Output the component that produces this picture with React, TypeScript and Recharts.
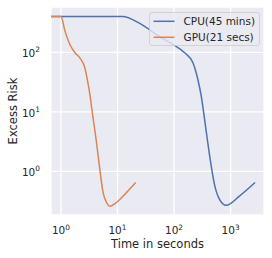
import { CartesianGrid, Legend, Line, LineChart, XAxis, YAxis } from 'recharts'

const CPU_TIME = [0.667, 12.3, 24.7, 55.7, 95.7, 154, 216, 264, 303, 347, 396, 455, 520, 637, 836, 1435, 2716]
const CPU_RISK = [400, 400, 307, 184, 136, 99, 67, 35, 18.4, 7.5, 3.0, 1.23, 0.6, 0.34, 0.27, 0.385, 0.65]

const GPU_TIME = [0.667, 1.0, 1.18, 1.44, 1.77, 2.16, 2.65, 2.96, 3.25, 3.56, 4.26, 4.87, 5.57, 6.4, 7.3, 9.6, 14.4, 21]
const GPU_RISK = [400, 400, 228, 136, 99, 81, 55, 33, 19.7, 10.3, 3.03, 1.08, 0.44, 0.3, 0.26, 0.3, 0.44, 0.65]

const X_TICKS = [1, 10, 100, 1000]
const Y_TICKS = [1, 10, 100]

const SERIES = [
  { name: 'CPU(45 mins)', color: '#4C72B0', time: CPU_TIME, risk: CPU_RISK },
  { name: 'GPU(21 secs)', color: '#DD8452', time: GPU_TIME, risk: GPU_RISK },
]

const FONT = 'DejaVu Sans'
const INK = '#262626'

const exp = (v: number) => Math.round(Math.log10(v))

function XTick({ x, y, payload }: any) {
  return (
    <text x={x} y={y} textAnchor="middle" fontSize={10.5} fill={INK} fontFamily={FONT}>
      <tspan dy={19}>10</tspan>
      <tspan dy={-4.5} fontSize={7.4}>{exp(payload.value)}</tspan>
    </text>
  )
}

function YTick({ x, y, payload }: any) {
  return (
    <text x={x - 11} y={y} textAnchor="end" fontSize={10.5} fill={INK} fontFamily={FONT}>
      <tspan dy={5}>10</tspan>
      <tspan dy={-5} fontSize={7.4}>{exp(payload.value)}</tspan>
    </text>
  )
}

function LegendBox() {
  return (
    <svg width={112} height={35} style={{ display: 'block' }}>
      <rect x={0.5} y={0.5} width={110} height={33} rx={2.5} fill="rgba(234,234,242,0.8)" stroke="rgba(204,204,204,0.8)" />
      {SERIES.map((s, i) => (
        <g key={s.name}>
          <line x1={4.5} x2={25.5} y1={9.3 + i * 16} y2={9.3 + i * 16} stroke={s.color} strokeWidth={1.5} />
          <text x={34.5} y={13.1 + i * 16} fontSize={10.5} fill={INK} fontFamily={FONT}>
            {s.name}
          </text>
        </g>
      ))}
    </svg>
  )
}

export default function App() {
  return (
    <div style={{ position: 'absolute', left: 0, top: 0 }}>
      <LineChart width={272} height={258} margin={{ top: 7, right: 8, bottom: 0, left: 0 }}>
        <CartesianGrid fill="#EAEAF2" stroke="#ffffff" strokeWidth={1.3} />
        <XAxis
          type="number"
          dataKey="x"
          scale="log"
          domain={[0.667, 3900]}
          allowDataOverflow
          ticks={X_TICKS}
          tick={<XTick />}
          tickSize={0}
          tickMargin={0}
          axisLine={false}
          tickLine={false}
          height={43}
          label={{
            content: () => (
              <text x={157.5} y={248} textAnchor="middle" fontSize={11.5} fill={INK} fontFamily={FONT}>
                Time in seconds
              </text>
            ),
          }}
        />
        <YAxis
          type="number"
          dataKey="y"
          scale="log"
          domain={[0.185, 580]}
          allowDataOverflow
          ticks={Y_TICKS}
          tick={<YTick />}
          tickSize={0}
          tickMargin={0}
          axisLine={false}
          tickLine={false}
          width={51}
          label={{
            content: () => (
              <text
                x={16.5}
                y={111}
                transform="rotate(-90, 16.5, 111)"
                textAnchor="middle"
                fontSize={11.5}
                fill={INK}
                fontFamily={FONT}
              >
                Excess Risk
              </text>
            ),
          }}
        />
        {SERIES.map((s) => (
          <Line
            key={s.name}
            name={s.name}
            data={s.time.map((t, i) => ({ x: t, y: s.risk[i] }))}
            dataKey="y"
            type="monotone"
            stroke={s.color}
            strokeWidth={1.5}
            dot={false}
            activeDot={false}
            isAnimationActive={false}
          />
        ))}
        <Legend
          layout="vertical"
          align="center"
          verticalAlign="middle"
          content={() => <LegendBox />}
          wrapperStyle={{ position: 'absolute', left: 149, top: 12, width: 112, height: 35 }}
        />
      </LineChart>
    </div>
  )
}
